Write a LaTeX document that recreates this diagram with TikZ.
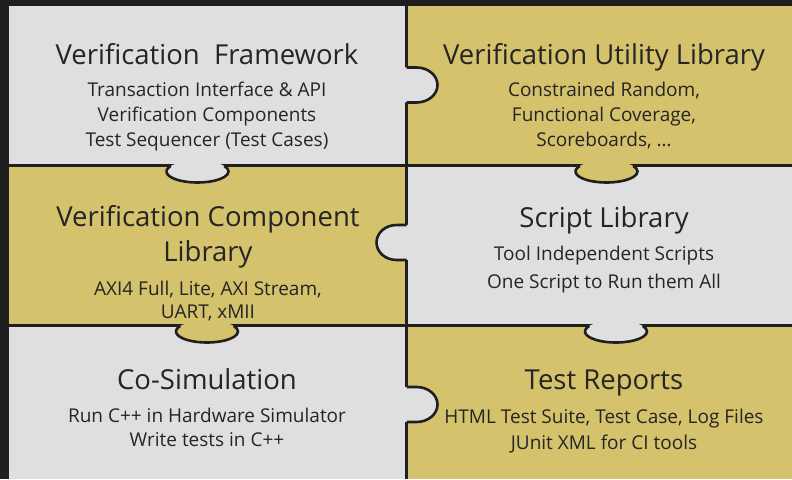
\documentclass[tikz,border=0pt]{standalone}
\usepackage{fontspec}
\setmainfont{Open Sans}
\usepackage{tikz}

\definecolor{bgdark}{HTML}{211E1F}
\definecolor{tilegray}{HTML}{DFDFE1}
\definecolor{tilegold}{HTML}{D4C26D}
\definecolor{inkdark}{HTML}{262424}

% knob hanging below a horizontal seam: centre x, seam y, owner colour
\newcommand{\knobdown}[3]{%
  \fill[#3] (#1,#2-6) ellipse[x radius=31, y radius=11];
  \draw[knob] (#1,#2-6) ++(150:31 and 11)
    arc[start angle=150, end angle=390, x radius=31, y radius=11];
}
% knob sticking out of a vertical seam: seam x, centre y, owner colour
\newcommand{\knobright}[3]{%
  \fill[#3] (#1-3,#2+17.5) -- (#1+10,#2+17.5)
    arc[start angle=90, end angle=-90, x radius=21, y radius=17.5] -- (#1-3,#2-17.5) -- cycle;
  \draw[knob] (#1,#2+17.5) -- (#1+10,#2+17.5)
    arc[start angle=90, end angle=-90, x radius=21, y radius=17.5] -- (#1,#2-17.5);
}
\newcommand{\knobleft}[3]{%
  \fill[#3] (#1+3,#2+17.5) -- (#1-10,#2+17.5)
    arc[start angle=90, end angle=270, x radius=20, y radius=17.5] -- (#1+3,#2-17.5) -- cycle;
  \draw[knob] (#1,#2+17.5) -- (#1-10,#2+17.5)
    arc[start angle=90, end angle=270, x radius=20, y radius=17.5] -- (#1,#2-17.5);
}

\begin{document}
\begin{tikzpicture}[
  x=1pt, y=1pt,
  every node/.style={text=inkdark, inner sep=0pt},
  title/.style={anchor=base, align=center, font=\fontsize{27.5}{35}\selectfont},
  body/.style={anchor=base, align=center, font=\fontsize{19}{25}\selectfont},
  knob/.style={draw=bgdark, line width=2.6pt},
]
  \useasboundingbox (0,0) rectangle (792,479);
  \fill[bgdark] (0,0) rectangle (792,479);

  % Puzzle tiles
  \fill[tilegray] (9,315) rectangle (405,473);
  \fill[tilegold] (408,315) rectangle (792,473);
  \fill[tilegold] (9,155) rectangle (405,312);
  \fill[tilegray] (408,155) rectangle (792,312);
  \fill[tilegray] (9,0) rectangle (405,152);
  \fill[tilegold] (408,0) rectangle (792,152);

  % Knobs
  \knobright{406.5}{394}{tilegray}
  \knobdown{197.5}{313.5}{tilegray}
  \knobdown{606.5}{313.5}{tilegold}
  \knobleft{406.5}{236.5}{tilegray}
  \knobdown{207}{153.5}{tilegold}
  \knobdown{616}{153.5}{tilegray}
  \knobright{406.5}{74.5}{tilegray}

  % Top row
  \node[title] (frame) at (207,414) {Verification~ Framework};
  \node[body] (framebody) at (207,332) {Transaction Interface \& API\\Verification Components\\Test Sequencer (Test Cases)};
  \node[title] (util) at (604,414) {Verification Utility Library};
  \node[body] (utilbody) at (604,332) {Constrained Random,\\Functional Coverage,\\Scoreboards, \dots};

  % Middle row
  \node[title] (vclib) at (208,217) {Verification Component\\Library};
  \node[body, font=\fontsize{19}{23}\selectfont] (vclibbody) at (208,160) {AXI4 Full, Lite, AXI Stream,\\UART, xMII};
  \node[title] (script) at (604,251) {Script Library};
  \node[body, font=\fontsize{19}{28}\selectfont] (scriptbody) at (604,190) {Tool Independent Scripts\\One Script to Run them All};

  % Bottom row
  \node[title] (cosim) at (207,89) {Co-Simulation};
  \node[body, font=\fontsize{19}{24}\selectfont] (cosimbody) at (207,32) {Run C++ in Hardware Simulator\\Write tests in C++};
  \node[title] (report) at (604,89) {Test Reports};
  \node[body, font=\fontsize{19}{26}\selectfont] (reportbody) at (604,30) {HTML Test Suite, Test Case, Log Files\\JUnit XML for CI tools};
\end{tikzpicture}
\end{document}
